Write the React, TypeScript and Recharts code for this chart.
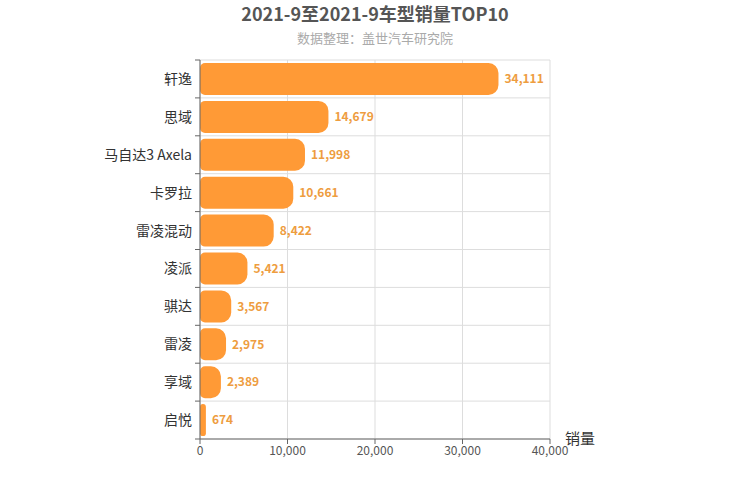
import { BarChart, Bar, XAxis, YAxis, CartesianGrid, LabelList } from 'recharts'

const models = ['轩逸', '思域', '马自达3 Axela', '卡罗拉', '雷凌混动', '凌派', '骐达', '雷凌', '享域', '启悦']
const sales = [34111, 14679, 11998, 10661, 8422, 5421, 3567, 2975, 2389, 674]
const xTicks = [0, 10000, 20000, 30000, 40000]

const data = models.map((name, i) => ({ name, sales: sales[i] }))

const FONT = '"Noto Sans CJK SC", "Noto Sans", sans-serif'
const fmt = (v: number) => v.toLocaleString('en-US')

// category label at band centre, tick marks at band edges
function CatTick(props: any) {
  const { x, y, payload, index, height } = props
  const band = (height || 379) / models.length
  const top = y - band / 2
  const bottom = y + band / 2
  return (
    <g>
      <line x1={x + 8} x2={x + 3} y1={top} y2={top} stroke="#666" />
      {index === models.length - 1 && <line x1={x + 8} x2={x + 3} y1={bottom} y2={bottom} stroke="#666" />}
      <text x={x} y={y} dy={5} textAnchor="end" fill="#333" fontSize={14}>
        {payload.value}
      </text>
    </g>
  )
}

export default function App() {
  return (
    <div style={{ position: 'absolute', left: 0, top: 0, width: 750, height: 500, fontFamily: FONT }}>
      <div style={{ position: 'absolute', top: 1, width: 750, lineHeight: '24px', textAlign: 'center', fontSize: 18, fontWeight: 'bold', color: '#555' }}>
        2021-9至2021-9车型销量TOP10
      </div>
      <div style={{ position: 'absolute', top: 29, width: 750, lineHeight: '18px', textAlign: 'center', fontSize: 13, color: '#aaa' }}>
        数据整理：盖世汽车研究院
      </div>
      <BarChart
        width={750}
        height={500}
        data={data}
        layout="vertical"
        margin={{ top: 60, right: 200, bottom: 0, left: 0 }}
      >
        <CartesianGrid
          stroke="#ddd"
          horizontalCoordinatesGenerator={({ offset }: any) =>
            models.map((_, i) => offset.top + (offset.height * i) / models.length).concat(offset.top + offset.height)
          }
        />
        <XAxis
          type="number"
          domain={[0, 40000]}
          ticks={xTicks}
          tickFormatter={fmt}
          height={61}
          stroke="#666"
          tick={{ fill: '#555', fontSize: 12 }}
          tickSize={5}
          label={{
            content: (p: any) => (
              <text x={p.viewBox.x + p.viewBox.width + 15} y={p.viewBox.y + 5} fill="#333" fontSize={15}>
                销量
              </text>
            ),
          }}
        />
        <YAxis
          type="category"
          dataKey="name"
          width={200}
          stroke="#666"
          tickLine={false}
          tickSize={6}
          tickMargin={2}
          tick={<CatTick />}
        />
        <Bar dataKey="sales" fill="#FF9A36" barSize={32} radius={[5, 10, 10, 5]} isAnimationActive={false}>
          <LabelList
            dataKey="sales"
            position="right"
            offset={6}
            formatter={(v: any) => fmt(Number(v))}
            fill="#EE9D3F"
            fontSize={12}
            fontWeight="bold"
          />
        </Bar>
      </BarChart>
    </div>
  )
}
